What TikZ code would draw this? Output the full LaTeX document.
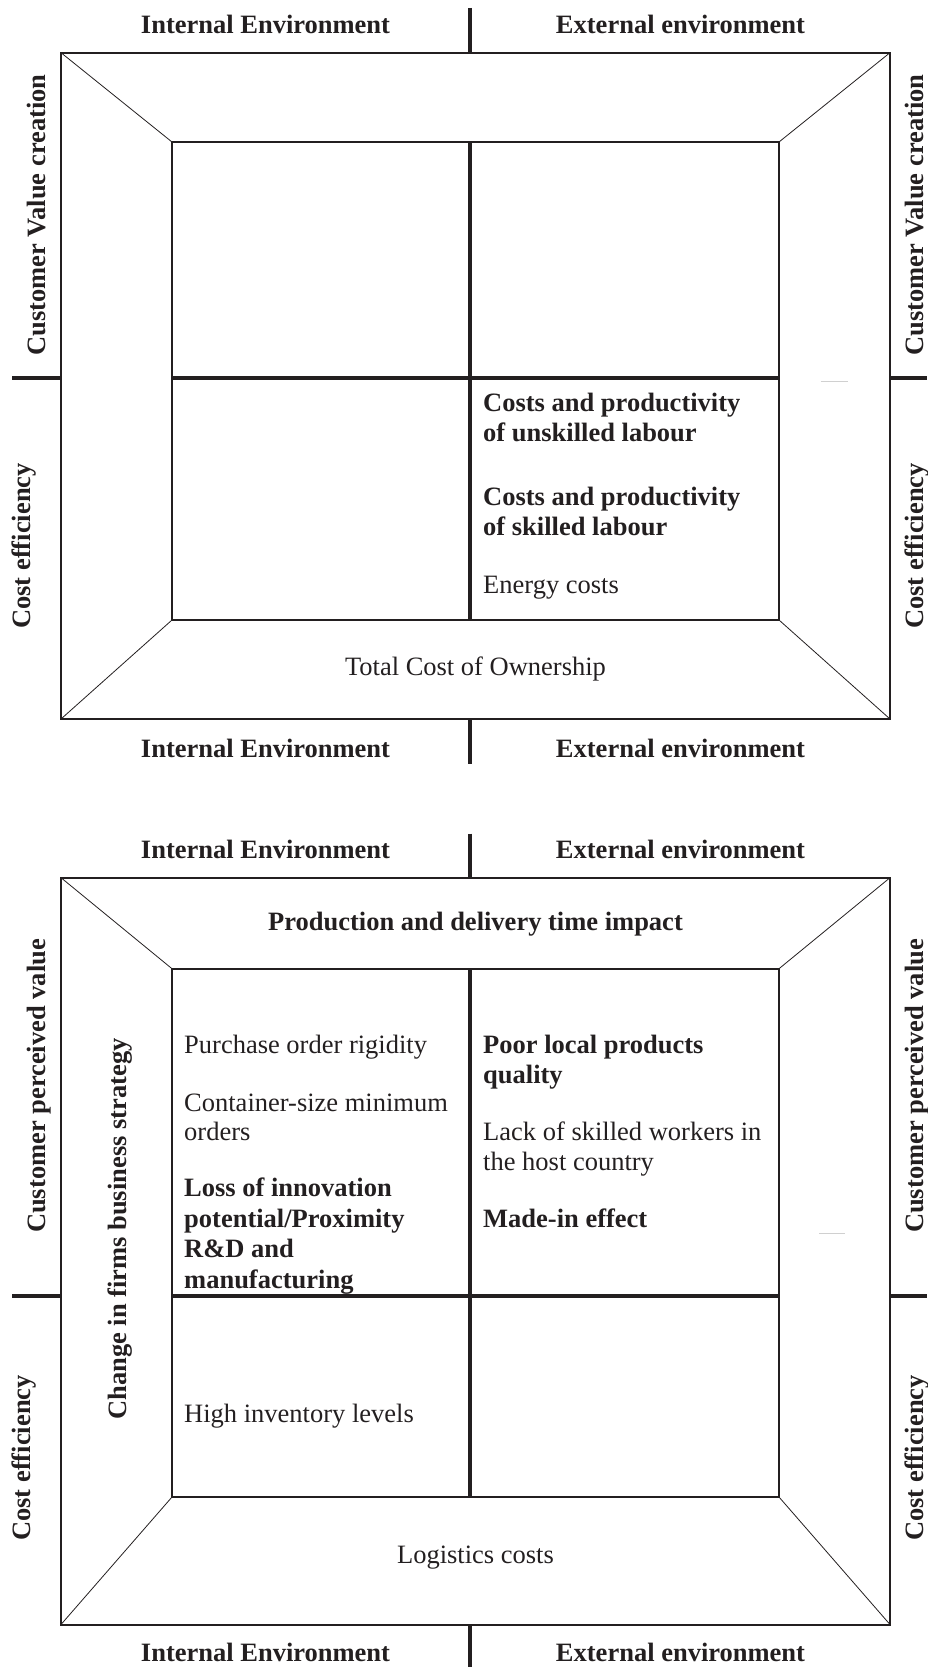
\documentclass[tikz,border=0pt]{standalone}
\usepackage{fontspec}
\setmainfont{Liberation Serif}
\definecolor{ink}{RGB}{35,31,32}
\definecolor{ghost}{RGB}{208,208,208}
% a left-aligned block of lines whose baseline is the first line's
\newcommand\linestack[1]{\vtop{\halign{##\hfil\cr#1\crcr}}}
\tikzset{
  frameline/.style={draw=ink, line width=2pt},
  cellline/.style={draw=ink, line width=1.8pt},
  divider/.style={draw=ink, line width=3.6pt},
  bevel/.style={draw=ink, line width=0.8pt},
  faint/.style={draw=ghost, line width=1pt},
  txt/.style={text=ink, inner sep=0pt, font=\fontsize{26.5}{29.5}\selectfont},
  btxt/.style={text=ink, inner sep=0pt, font=\fontsize{26.5}{29.5}\selectfont\bfseries},
  wtxt/.style={text=ink, inner sep=0pt, font=\fontsize{26.5}{30}\selectfont\bfseries},
  ltxt/.style={text=ink, inner sep=0pt, font=\fontsize{26.5}{30.5}\selectfont},
  lbtxt/.style={text=ink, inner sep=0pt, font=\fontsize{26.5}{30.5}\selectfont\bfseries},
  head/.style={btxt, anchor=base},
  side/.style={btxt, anchor=base, rotate=90},
  item/.style={anchor=base west}
}
\begin{document}
\begin{tikzpicture}[x=1pt, y=-1pt]
\useasboundingbox (0,0) rectangle (927,1667);

% ---------------- upper panel ----------------
\coordinate (A-onw) at (61,52.7);   \coordinate (A-one) at (890,52.7);
\coordinate (A-osw) at (61,719);    \coordinate (A-ose) at (890,719);
\coordinate (A-inw) at (172,142);   \coordinate (A-ine) at (779,142);
\coordinate (A-isw) at (172,620);   \coordinate (A-ise) at (779,620);
\coordinate (A-on) at (470,52.7);   \coordinate (A-os) at (470,719);
\coordinate (A-in) at (470,142);    \coordinate (A-is) at (470,620);
\coordinate (A-mw) at (172,377.7);  \coordinate (A-me) at (779,377.7);
\coordinate (A-ow) at (61,377.7);   \coordinate (A-oe) at (890,377.7);
\coordinate (A-tt) at (470,8);      \coordinate (A-bt) at (470,763.5);
\coordinate (A-lt) at (12,377.7);   \coordinate (A-rt) at (927,377.7);

\draw[bevel] (A-onw) -- (A-inw);
\draw[bevel] (A-one) -- (A-ine);
\draw[bevel] (A-osw) -- (A-isw);
\draw[bevel] (A-ose) -- (A-ise);
\draw[frameline] (A-onw) rectangle (A-ose);
\draw[cellline] (A-inw) rectangle (A-ise);
\draw[divider] (A-mw) -- (A-me);
\draw[divider] (A-in) -- (A-is);
\draw[divider] (A-tt) -- (A-on);
\draw[divider] (A-os) -- (A-bt);
\draw[divider] (A-lt) -- (A-ow);
\draw[divider] (A-oe) -- (A-rt);
\draw[faint] (820.5,381.7) -- (848.3,381.7);

\node[head] (A-int) at (265.5,33.3) {Internal Environment};
\node[head] (A-ext) at (680.5,33.3) {External environment};
\node[head] (A-intb) at (265.5,757) {Internal Environment};
\node[head] (A-extb) at (680.5,757) {External environment};
\node[side] (A-lval) at (45.5,215) {Customer Value creation};
\node[side] (A-lcost) at (30,546) {Cost efficiency};
\node[side] (A-rval) at (923.5,215) {Customer Value creation};
\node[side] (A-rcost) at (923.5,546) {Cost efficiency};

\node[wtxt, item] (A-unsk) at (483,411.7) {\linestack{Costs and productivity\cr of unskilled labour}};
\node[wtxt, item] (A-sk) at (483,505) {\linestack{Costs and productivity\cr of skilled labour}};
\node[txt, item] (A-energy) at (483,593.5) {Energy costs};
\node[txt, anchor=base] (A-tco) at (475.5,675) {Total Cost of Ownership};

% ---------------- lower panel ----------------
\coordinate (B-onw) at (61,877.7);  \coordinate (B-one) at (890,877.7);
\coordinate (B-osw) at (61,1624.5); \coordinate (B-ose) at (890,1624.5);
\coordinate (B-inw) at (172,968.7); \coordinate (B-ine) at (779,968.7);
\coordinate (B-isw) at (172,1497);  \coordinate (B-ise) at (779,1497);
\coordinate (B-on) at (470,877.7);  \coordinate (B-os) at (470,1624.5);
\coordinate (B-in) at (470,968.7);  \coordinate (B-is) at (470,1497);
\coordinate (B-mw) at (172,1296);   \coordinate (B-me) at (779,1296);
\coordinate (B-ow) at (61,1296);    \coordinate (B-oe) at (890,1296);
\coordinate (B-tt) at (470,833.5);  \coordinate (B-bt) at (470,1667);
\coordinate (B-lt) at (12,1296);    \coordinate (B-rt) at (927,1296);

\draw[bevel] (B-onw) -- (B-inw);
\draw[bevel] (B-one) -- (B-ine);
\draw[bevel] (B-osw) -- (B-isw);
\draw[bevel] (B-ose) -- (B-ise);
\draw[frameline] (B-onw) rectangle (B-ose);
\draw[cellline] (B-inw) rectangle (B-ise);
\draw[divider] (B-mw) -- (B-me);
\draw[divider] (B-in) -- (B-is);
\draw[divider] (B-tt) -- (B-on);
\draw[divider] (B-os) -- (B-bt);
\draw[divider] (B-lt) -- (B-ow);
\draw[divider] (B-oe) -- (B-rt);
\draw[faint] (819,1233.3) -- (844.5,1233.3);

\node[head] (B-int) at (265.5,858) {Internal Environment};
\node[head] (B-ext) at (680.5,858) {External environment};
\node[head] (B-intb) at (265.5,1661.7) {Internal Environment};
\node[head] (B-extb) at (680.5,1661.7) {External environment};
\node[side] (B-lval) at (45.5,1086) {Customer perceived value};
\node[side] (B-lcost) at (30,1458) {Cost efficiency};
\node[side] (B-rval) at (923.5,1086) {Customer perceived value};
\node[side] (B-rcost) at (923.5,1458) {Cost efficiency};
\node[side] (B-strat) at (126.5,1229) {Change in firms business strategy};

\node[head] (B-time) at (475.5,930) {Production and delivery time impact};
\node[txt, item] (B-po) at (184,1053.3) {Purchase order rigidity};
\node[txt, item] (B-cont) at (184,1111) {\linestack{Container-size minimum\cr orders}};
\node[lbtxt, item] (B-loss) at (184,1196.7) {\linestack{Loss of innovation\cr potential/Proximity\cr R\&D and\cr manufacturing}};
\node[lbtxt, item] (B-poor) at (483,1053.3) {\linestack{Poor local products\cr quality}};
\node[ltxt, item] (B-lack) at (483,1140) {\linestack{Lack of skilled workers in\cr the host country}};
\node[btxt, item] (B-made) at (483,1227) {Made-in effect};
\node[txt, item] (B-inv) at (184,1422.5) {High inventory levels};
\node[txt, anchor=base] (B-log) at (475.5,1563.3) {Logistics costs};
\end{tikzpicture}
\end{document}
